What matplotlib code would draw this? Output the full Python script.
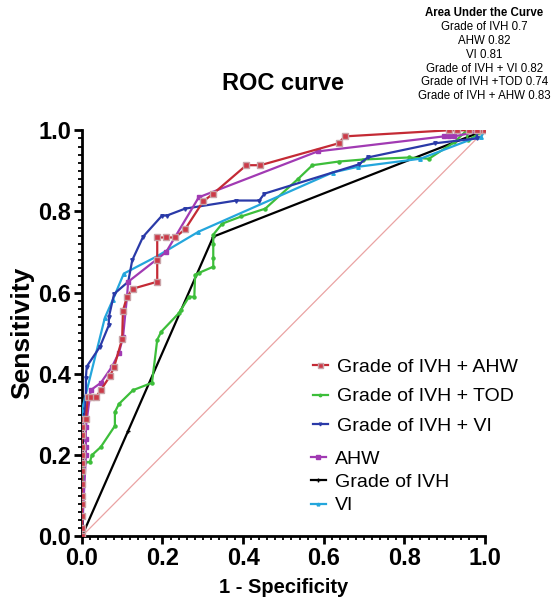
import numpy as np
import matplotlib.pyplot as plt
from matplotlib.ticker import MultipleLocator

plt.rcParams["font.family"] = ["Liberation Sans", "DejaVu Sans"]

# ROC points: (1 - specificity, sensitivity)
ivh_x = [0.0, 0.115, 0.326, 1.0]
ivh_y = [0.0, 0.26, 0.738, 1.0]

ahw_x = [0.0, 0.01, 0.01, 0.01, 0.01, 0.022, 0.047, 0.075, 0.092, 0.102, 0.112,
         0.115, 0.209, 0.29, 0.585, 0.898, 0.91, 0.923, 1.0]
ahw_y = [0.0, 0.20, 0.22, 0.24, 0.27, 0.36, 0.378, 0.418, 0.452, 0.49, 0.59,
         0.627, 0.70, 0.835, 0.948, 0.985, 0.985, 0.985, 1.0]

vi_x = [0.0, 0.0, 0.057, 0.077, 0.104, 0.187, 0.289, 0.622, 0.684, 0.84,
        0.98, 0.99, 1.0]
vi_y = [0.0, 0.31, 0.538, 0.583, 0.647, 0.69, 0.75, 0.896, 0.91, 0.93,
        0.983, 0.983, 1.0]

ivh_vi_x = [0.0, 0.0, 0.007, 0.01, 0.01, 0.012, 0.045, 0.067, 0.067, 0.08,
            0.115, 0.125, 0.152, 0.199, 0.211, 0.256, 0.383, 0.44, 0.453,
            0.687, 0.709, 0.876, 0.98, 0.98, 1.0]
ivh_vi_y = [0.0, 0.28, 0.30, 0.343, 0.39, 0.418, 0.467, 0.52, 0.54, 0.597,
            0.627, 0.68, 0.738, 0.79, 0.79, 0.807, 0.827, 0.827, 0.844,
            0.916, 0.933, 0.968, 0.98, 1.0, 1.0]

ivh_tod_x = [0.0, 0.0, 0.007, 0.02, 0.025, 0.047, 0.082, 0.082, 0.092, 0.127,
             0.174, 0.187, 0.197, 0.241, 0.246, 0.266, 0.279, 0.281, 0.291,
             0.326, 0.326, 0.326, 0.326, 0.348, 0.396, 0.455, 0.535, 0.572,
             0.637, 0.697, 0.811, 0.861, 0.923, 0.955, 0.957, 1.0]
ivh_tod_y = [0.0, 0.10, 0.183, 0.183, 0.20, 0.22, 0.272, 0.306, 0.326, 0.36,
             0.378, 0.484, 0.504, 0.55, 0.558, 0.59, 0.59, 0.644, 0.649,
             0.664, 0.686, 0.72, 0.743, 0.77, 0.788, 0.807, 0.879, 0.914,
             0.923, 0.928, 0.933, 0.93, 0.97, 1.0, 0.975, 1.0]

ivh_ahw_x = [0.0, 0.0, 0.0, 0.0, 0.0, 0.0, 0.0, 0.0, 0.0, 0.0, 0.0, 0.0, 0.0,
             0.01, 0.015, 0.022, 0.035, 0.047, 0.07, 0.08, 0.1, 0.102, 0.112,
             0.127, 0.187, 0.187, 0.187, 0.209, 0.231, 0.256, 0.301, 0.326,
             0.408, 0.443, 0.637, 0.652, 0.91, 0.93, 0.96, 0.98, 0.995, 1.0]
ivh_ahw_y = [0.0, 0.02, 0.05, 0.08, 0.10, 0.13, 0.16, 0.18, 0.20, 0.22, 0.25,
             0.27, 0.29, 0.29, 0.343, 0.343, 0.343, 0.36, 0.395, 0.417, 0.486,
             0.556, 0.59, 0.61, 0.627, 0.68, 0.736, 0.736, 0.736, 0.756,
             0.825, 0.844, 0.914, 0.914, 0.968, 0.985, 1.0, 1.0, 1.0, 1.0,
             1.0, 1.0]

auc_lines = ["Grade of IVH 0.7", "AHW 0.82", "VI 0.81", "Grade of IVH + VI 0.82",
             "Grade of IVH +TOD 0.74", "Grade of IVH + AHW 0.83"]


def plot_roc(filename="out.png"):
    fig = plt.figure(figsize=(5.53, 6.06), dpi=100)
    ax = fig.add_axes([0.148, 0.115, 0.729, 0.67])

    ax.plot([0, 1], [0, 1], color="#eaa3a3", linewidth=0.9, zorder=1)

    l_ivh, = ax.plot(ivh_x, ivh_y, color="black", linewidth=1.6,
                     marker="+", markersize=3, zorder=2)
    l_tod, = ax.plot(ivh_tod_x, ivh_tod_y, color="#3dbe3a", linewidth=1.6,
                     marker="o", markersize=2.2, zorder=3)
    l_vi, = ax.plot(vi_x, vi_y, color="#24a6dc", linewidth=1.6,
                    marker="^", markersize=2.5, zorder=3)
    l_ivhvi, = ax.plot(ivh_vi_x, ivh_vi_y, color="#2a3aa8", linewidth=1.6,
                       marker="v", markersize=2.5, zorder=4)
    l_ahw, = ax.plot(ahw_x, ahw_y, color="#a13ab3", linewidth=1.6,
                     marker="s", markersize=3, zorder=4)
    l_ivhahw, = ax.plot(ivh_ahw_x, ivh_ahw_y, color="#c42a35", linewidth=1.6,
                        marker="s", markersize=4.5, markerfacecolor="#cc3a48",
                        markeredgecolor="#c9a3a8", markeredgewidth=1.0, zorder=5)

    ax.set_xlim(0, 1.0)
    ax.set_ylim(0, 1.0)
    ax.xaxis.set_major_locator(MultipleLocator(0.2))
    ax.yaxis.set_major_locator(MultipleLocator(0.2))
    ax.xaxis.set_minor_locator(MultipleLocator(0.02))
    ax.yaxis.set_minor_locator(MultipleLocator(0.02))
    ax.xaxis.set_major_formatter(lambda v, p: f"{v:.1f}")
    ax.yaxis.set_major_formatter(lambda v, p: f"{v:.1f}")

    for side in ["top", "right"]:
        ax.spines[side].set_visible(False)
    for side in ["left", "bottom"]:
        ax.spines[side].set_linewidth(2.0)
    ax.tick_params(which="major", length=5.5, width=2.0, labelsize=17, pad=2)
    ax.tick_params(which="minor", length=3.2, width=1.3)
    for lab in ax.get_xticklabels() + ax.get_yticklabels():
        lab.set_fontweight("bold")

    ax.set_xlabel("1 - Specificity", fontsize=14.5, fontweight="bold", labelpad=6)
    ax.set_ylabel("Sensitivity", fontsize=19, fontweight="bold", labelpad=3)
    ax.set_title("ROC curve", fontsize=17, fontweight="bold", pad=29)

    leg1 = ax.legend([l_ivhahw, l_tod, l_ivhvi],
                     ["Grade of IVH + AHW", "Grade of IVH + TOD", "Grade of IVH + VI"],
                     loc="upper left", bbox_to_anchor=(0.553, 0.458), frameon=False,
                     fontsize=14, handlelength=0.8, handletextpad=0.45,
                     labelspacing=0.62, borderaxespad=0, markerscale=0.8)
    ax.add_artist(leg1)
    ax.legend([l_ahw, l_ivh, l_vi], ["AHW", "Grade of IVH", "VI"],
              loc="upper left", bbox_to_anchor=(0.548, 0.232), frameon=False,
              fontsize=14, handlelength=0.8, handletextpad=0.45,
              labelspacing=0.3, borderaxespad=0, markerscale=0.8)

    fig.text(0.876, 0.978, "Area Under the Curve", ha="center", va="center",
             fontsize=8.3, fontweight="bold")
    for i, line in enumerate(auc_lines):
        fig.text(0.876, 0.978 - (i + 1) * 0.0228, line, ha="center",
                 va="center", fontsize=8.3)

    fig.savefig(filename, dpi=100)
    plt.close(fig)


if __name__ == "__main__":
    plot_roc()
